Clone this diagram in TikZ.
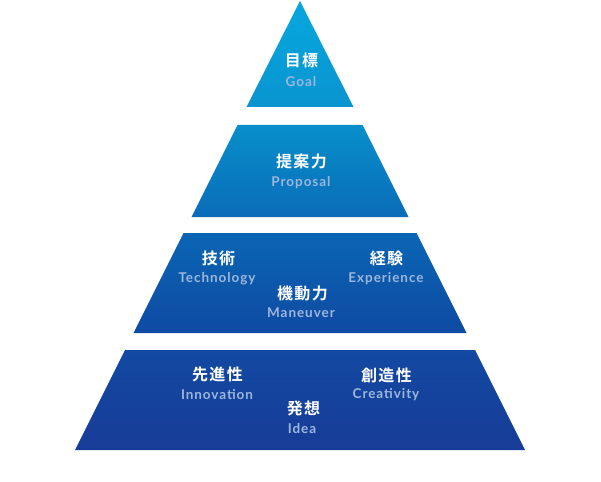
\documentclass[tikz,border=0pt]{standalone}
\usepackage{fontspec}
\usepackage{tikz}
\usepackage{xcolor}
\usetikzlibrary{positioning}
\setsansfont{Lato}
\newfontfamily\jpfont[LetterSpace=9]{Noto Sans CJK JP Bold}
\newfontfamily\enfont[LetterSpace=7]{Lato Bold}
\definecolor{tierAtop}{HTML}{06A8DE}
\definecolor{tierAbot}{HTML}{0A94D0}
\definecolor{tierBtop}{HTML}{088FCB}
\definecolor{tierBbot}{HTML}{0A6CB8}
\definecolor{tierCtop}{HTML}{0A66B4}
\definecolor{tierCbot}{HTML}{0F4AA3}
\definecolor{tierDtop}{HTML}{1249A2}
\definecolor{tierDbot}{HTML}{173C97}
\definecolor{subtext}{HTML}{9DB6DC}
\tikzset{
  jp/.style={text=white, font=\jpfont\fontsize{16}{18}\selectfont, inner sep=0pt},
  en/.style={text=subtext, font=\enfont\fontsize{13.5}{15}\selectfont, inner sep=0pt}
}

\begin{document}
\begin{tikzpicture}[x=1pt,y=-1pt]
    \useasboundingbox (0,0) rectangle (601,481);
    % tiers
    \shade[top color=tierAtop, bottom color=tierAbot] (300,1) -- (353.5,107) -- (246.5,107) -- cycle;
    \shade[top color=tierBtop, bottom color=tierBbot] (237.5,125) -- (362.5,125) -- (408.5,217) -- (191.5,217) -- cycle;
    \shade[top color=tierCtop, bottom color=tierCbot] (183.5,233) -- (416.5,233) -- (466.5,333) -- (133.5,333) -- cycle;
    \shade[top color=tierDtop, bottom color=tierDbot] (125,350) -- (475,350) -- (525,450) -- (75,450) -- cycle;
    % labels
    \node[jp] (goal) at (301.5,60) {目標};
    \node[en] (goalen) at (301,82) {Goal};
    \node[jp] (prop) at (301.5,161) {提案力};
    \node[en] (propen) at (301,183) {Proposal};
    \node[jp] (tech) at (218.5,258) {技術};
    \node[en] (techen) at (217,279) {Technology};
    \node[jp] (exp) at (386.5,258) {経験};
    \node[en] (expen) at (386,279) {Experience};
    \node[jp] (man) at (302.5,293) {機動力};
    \node[en] (manen) at (301,313) {Maneuver};
    \node[jp] (inno) at (217.5,374) {先進性};
    \node[en] (innoen) at (217,395) {Innovation};
    \node[jp] (crea) at (386.5,375) {創造性};
    \node[en] (creaen) at (386,395) {Creativity};
    \node[jp] (idea) at (303.5,408) {発想};
    \node[en] (ideaen) at (302,429) {Idea};
  \end{tikzpicture}
\end{document}
